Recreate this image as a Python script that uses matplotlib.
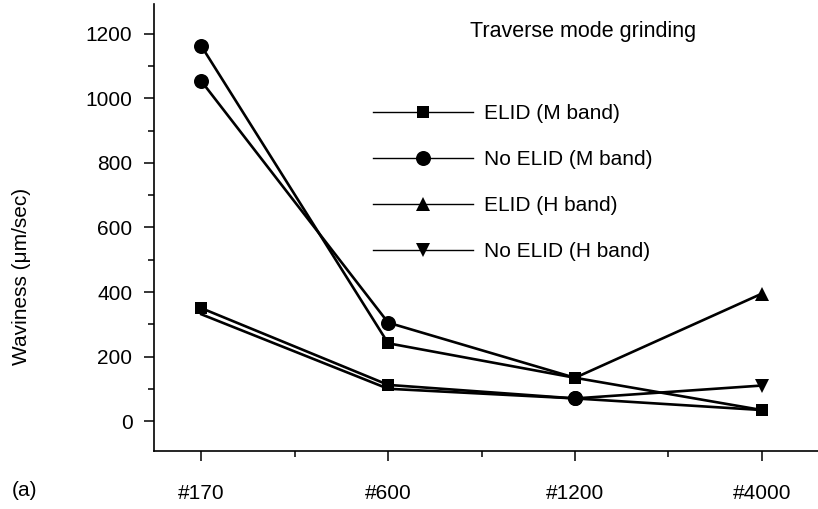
import matplotlib
matplotlib.use("Agg")
import matplotlib.pyplot as plt
from matplotlib.lines import Line2D
from matplotlib.ticker import FixedLocator

plt.rcParams['font.family'] = ['Liberation Sans', 'DejaVu Sans']

categories = ['#170', '#600', '#1200', '#4000']
series_labels = ['ELID (M band)', 'No ELID (M band)', 'ELID (H band)', 'No ELID (H band)']
legend_markers = ['s', 'o', '^', 'v']

# values (lines cross / overlap in the original)
s1_values = [1163, 241, 134, 34]
s2_values = [1054, 305, 134, 395]
s3_values = [350, 112, 70, 110]
s4_values = [331, 100, 70, 34]
# marker drawn at each point, as seen in the original ('' = hidden under another marker)
s1_markers = ['o', 's', 's', 's']
s2_markers = ['o', 'o', 's', '^']
s3_markers = ['s', 's', 'o', 'v']
s4_markers = ['', '', 'o', 's']

series_values = [s1_values, s2_values, s3_values, s4_values]
series_markers = [s1_markers, s2_markers, s3_markers, s4_markers]

msize = {'s': 9.2, 'o': 10.8, '^': 9.6, 'v': 9.6}

W, H = 818, 509
fig = plt.figure(figsize=(W / 100, H / 100), dpi=100)
ax = fig.add_axes([154 / W, (H - 451) / H, 1 - 154 / W, (451 - 4) / H])

x = list(range(len(categories)))
for vals, mks in zip(series_values, series_markers):
    ax.plot(x, vals, color='black', lw=1.9, solid_joinstyle='miter', zorder=2)
    for xi, v, m in zip(x, vals, mks):
        if m:
            ax.plot(xi, v, marker=m, ms=msize[m], color='black', mew=0, ls='none', zorder=3)

ax.set_xlim(-0.253, 3.30)
ax.set_ylim(-93, 1293)
ax.set_xticks(x)
ax.set_xticklabels(categories)
ax.xaxis.set_minor_locator(FixedLocator([0.5, 1.5, 2.5]))
ax.set_yticks([0, 200, 400, 600, 800, 1000, 1200])
ax.yaxis.set_minor_locator(FixedLocator([100, 300, 500, 700, 900, 1100]))

for s in ['top', 'right']:
    ax.spines[s].set_visible(False)
for s in ['left', 'bottom']:
    ax.spines[s].set_linewidth(1.2)

ax.tick_params(axis='both', which='major', direction='out', length=7.5, width=1.1,
               labelsize=15, color='black')
ax.tick_params(axis='both', which='minor', direction='out', length=4.5, width=1.1,
               color='black')
ax.tick_params(axis='y', which='major', pad=8)
ax.tick_params(axis='x', which='major', pad=16)

handles = [Line2D([0], [0], color='black', lw=1.0, marker=m, ms=msize[m], mew=0)
           for m in legend_markers]
leg = ax.legend(handles, series_labels, loc='upper left',
                bbox_to_anchor=(373 / W, 1 - 104 / H), bbox_transform=fig.transFigure,
                frameon=False, fontsize=15, handlelength=4.8, handletextpad=0.55,
                labelspacing=1.3, borderpad=0, borderaxespad=0, numpoints=1)

fig.text(470 / W, 1 - 32 / H, 'Traverse mode grinding', fontsize=15.5, va='center', ha='left')
fig.text(12 / W, 1 - 491 / H, '(a)', fontsize=15, va='center', ha='left')
fig.text(22 / W, 1 - 276 / H, 'Waviness (\u03bcm/sec)', fontsize=15, va='center',
         ha='center', rotation=90)

fig.savefig('out.png', dpi=100)
